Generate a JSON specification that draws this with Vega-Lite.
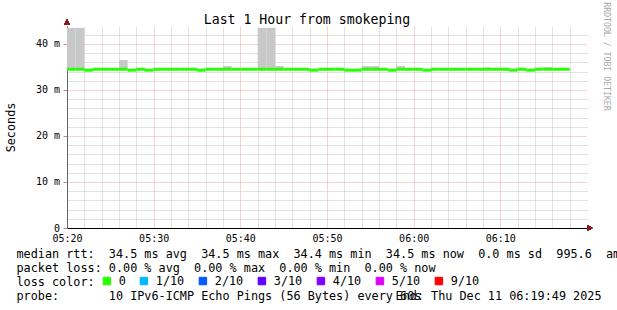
{
  "$schema": "https://vega.github.io/schema/vega-lite/v6.json",
  "width": 520,
  "height": 202,
  "autosize": {"type": "none"},
  "padding": {"left": 67, "top": 26, "right": 30, "bottom": 82},
  "background": "white",
  "config": {
    "font": "DejaVu Sans Mono",
    "view": {"stroke": null},
    "axis": {"labelFont": "DejaVu Sans Mono", "titleFont": "DejaVu Sans Mono", "titleFontWeight": "normal", "titleColor": "black", "labelColor": "black"}
  },
  "title": {"text": "Last 1 Hour from smokeping", "font": "DejaVu Sans Mono", "fontSize": 13.2, "fontWeight": "normal", "color": "black", "anchor": "middle", "frame": "group", "dx": -20, "dy": 37, "baseline": "alphabetic", "offset": 2},
  "data": {"values": [
    {"t": "2025-12-11T05:20:00Z", "t2": "2025-12-11T05:21:00Z", "med": 34.5, "lo": 34.3, "hi": 43.5, "loss": "0"},
    {"t": "2025-12-11T05:21:00Z", "t2": "2025-12-11T05:22:00Z", "med": 34.5, "lo": 34.3, "hi": 43.5, "loss": "0"},
    {"t": "2025-12-11T05:22:00Z", "t2": "2025-12-11T05:23:00Z", "med": 34.3, "lo": 34.2, "hi": 34.6, "loss": "0"},
    {"t": "2025-12-11T05:23:00Z", "t2": "2025-12-11T05:24:00Z", "med": 34.5, "lo": 34.3, "hi": 34.7, "loss": "0"},
    {"t": "2025-12-11T05:24:00Z", "t2": "2025-12-11T05:25:00Z", "med": 34.5, "lo": 34.3, "hi": 34.7, "loss": "0"},
    {"t": "2025-12-11T05:25:00Z", "t2": "2025-12-11T05:26:00Z", "med": 34.5, "lo": 34.3, "hi": 34.7, "loss": "0"},
    {"t": "2025-12-11T05:26:00Z", "t2": "2025-12-11T05:27:00Z", "med": 34.5, "lo": 34.3, "hi": 36.5, "loss": "0"},
    {"t": "2025-12-11T05:27:00Z", "t2": "2025-12-11T05:28:00Z", "med": 34.3, "lo": 34.2, "hi": 34.6, "loss": "0"},
    {"t": "2025-12-11T05:28:00Z", "t2": "2025-12-11T05:29:00Z", "med": 34.5, "lo": 34.3, "hi": 34.7, "loss": "0"},
    {"t": "2025-12-11T05:29:00Z", "t2": "2025-12-11T05:30:00Z", "med": 34.3, "lo": 34.2, "hi": 34.6, "loss": "0"},
    {"t": "2025-12-11T05:30:00Z", "t2": "2025-12-11T05:31:00Z", "med": 34.5, "lo": 34.3, "hi": 34.7, "loss": "0"},
    {"t": "2025-12-11T05:31:00Z", "t2": "2025-12-11T05:32:00Z", "med": 34.5, "lo": 34.3, "hi": 34.7, "loss": "0"},
    {"t": "2025-12-11T05:32:00Z", "t2": "2025-12-11T05:33:00Z", "med": 34.5, "lo": 34.3, "hi": 34.7, "loss": "0"},
    {"t": "2025-12-11T05:33:00Z", "t2": "2025-12-11T05:34:00Z", "med": 34.5, "lo": 34.3, "hi": 34.7, "loss": "0"},
    {"t": "2025-12-11T05:34:00Z", "t2": "2025-12-11T05:35:00Z", "med": 34.5, "lo": 34.3, "hi": 34.7, "loss": "0"},
    {"t": "2025-12-11T05:35:00Z", "t2": "2025-12-11T05:36:00Z", "med": 34.3, "lo": 34.2, "hi": 34.6, "loss": "0"},
    {"t": "2025-12-11T05:36:00Z", "t2": "2025-12-11T05:37:00Z", "med": 34.5, "lo": 34.3, "hi": 34.7, "loss": "0"},
    {"t": "2025-12-11T05:37:00Z", "t2": "2025-12-11T05:38:00Z", "med": 34.5, "lo": 34.3, "hi": 34.7, "loss": "0"},
    {"t": "2025-12-11T05:38:00Z", "t2": "2025-12-11T05:39:00Z", "med": 34.5, "lo": 34.3, "hi": 35.2, "loss": "0"},
    {"t": "2025-12-11T05:39:00Z", "t2": "2025-12-11T05:40:00Z", "med": 34.5, "lo": 34.3, "hi": 34.7, "loss": "0"},
    {"t": "2025-12-11T05:40:00Z", "t2": "2025-12-11T05:41:00Z", "med": 34.5, "lo": 34.3, "hi": 34.7, "loss": "0"},
    {"t": "2025-12-11T05:41:00Z", "t2": "2025-12-11T05:42:00Z", "med": 34.5, "lo": 34.3, "hi": 34.7, "loss": "0"},
    {"t": "2025-12-11T05:42:00Z", "t2": "2025-12-11T05:43:00Z", "med": 34.5, "lo": 34.3, "hi": 43.5, "loss": "0"},
    {"t": "2025-12-11T05:43:00Z", "t2": "2025-12-11T05:44:00Z", "med": 34.5, "lo": 34.3, "hi": 43.5, "loss": "0"},
    {"t": "2025-12-11T05:44:00Z", "t2": "2025-12-11T05:45:00Z", "med": 34.5, "lo": 34.3, "hi": 35.2, "loss": "0"},
    {"t": "2025-12-11T05:45:00Z", "t2": "2025-12-11T05:46:00Z", "med": 34.5, "lo": 34.3, "hi": 34.7, "loss": "0"},
    {"t": "2025-12-11T05:46:00Z", "t2": "2025-12-11T05:47:00Z", "med": 34.5, "lo": 34.3, "hi": 34.7, "loss": "0"},
    {"t": "2025-12-11T05:47:00Z", "t2": "2025-12-11T05:48:00Z", "med": 34.5, "lo": 34.3, "hi": 34.7, "loss": "0"},
    {"t": "2025-12-11T05:48:00Z", "t2": "2025-12-11T05:49:00Z", "med": 34.3, "lo": 34.2, "hi": 34.6, "loss": "0"},
    {"t": "2025-12-11T05:49:00Z", "t2": "2025-12-11T05:50:00Z", "med": 34.5, "lo": 34.3, "hi": 34.7, "loss": "0"},
    {"t": "2025-12-11T05:50:00Z", "t2": "2025-12-11T05:51:00Z", "med": 34.5, "lo": 34.3, "hi": 34.7, "loss": "0"},
    {"t": "2025-12-11T05:51:00Z", "t2": "2025-12-11T05:52:00Z", "med": 34.5, "lo": 34.3, "hi": 34.7, "loss": "0"},
    {"t": "2025-12-11T05:52:00Z", "t2": "2025-12-11T05:53:00Z", "med": 34.3, "lo": 34.2, "hi": 34.6, "loss": "0"},
    {"t": "2025-12-11T05:53:00Z", "t2": "2025-12-11T05:54:00Z", "med": 34.3, "lo": 34.2, "hi": 34.6, "loss": "0"},
    {"t": "2025-12-11T05:54:00Z", "t2": "2025-12-11T05:55:00Z", "med": 34.5, "lo": 34.3, "hi": 35.2, "loss": "0"},
    {"t": "2025-12-11T05:55:00Z", "t2": "2025-12-11T05:56:00Z", "med": 34.5, "lo": 34.3, "hi": 35.2, "loss": "0"},
    {"t": "2025-12-11T05:56:00Z", "t2": "2025-12-11T05:57:00Z", "med": 34.5, "lo": 34.3, "hi": 34.7, "loss": "0"},
    {"t": "2025-12-11T05:57:00Z", "t2": "2025-12-11T05:58:00Z", "med": 34.3, "lo": 34.2, "hi": 34.6, "loss": "0"},
    {"t": "2025-12-11T05:58:00Z", "t2": "2025-12-11T05:59:00Z", "med": 34.5, "lo": 34.3, "hi": 35.2, "loss": "0"},
    {"t": "2025-12-11T05:59:00Z", "t2": "2025-12-11T06:00:00Z", "med": 34.5, "lo": 34.3, "hi": 34.7, "loss": "0"},
    {"t": "2025-12-11T06:00:00Z", "t2": "2025-12-11T06:01:00Z", "med": 34.5, "lo": 34.3, "hi": 34.7, "loss": "0"},
    {"t": "2025-12-11T06:01:00Z", "t2": "2025-12-11T06:02:00Z", "med": 34.3, "lo": 34.2, "hi": 34.6, "loss": "0"},
    {"t": "2025-12-11T06:02:00Z", "t2": "2025-12-11T06:03:00Z", "med": 34.5, "lo": 34.3, "hi": 34.7, "loss": "0"},
    {"t": "2025-12-11T06:03:00Z", "t2": "2025-12-11T06:04:00Z", "med": 34.5, "lo": 34.3, "hi": 34.7, "loss": "0"},
    {"t": "2025-12-11T06:04:00Z", "t2": "2025-12-11T06:05:00Z", "med": 34.5, "lo": 34.3, "hi": 34.7, "loss": "0"},
    {"t": "2025-12-11T06:05:00Z", "t2": "2025-12-11T06:06:00Z", "med": 34.5, "lo": 34.3, "hi": 34.7, "loss": "0"},
    {"t": "2025-12-11T06:06:00Z", "t2": "2025-12-11T06:07:00Z", "med": 34.5, "lo": 34.3, "hi": 34.7, "loss": "0"},
    {"t": "2025-12-11T06:07:00Z", "t2": "2025-12-11T06:08:00Z", "med": 34.5, "lo": 34.3, "hi": 34.7, "loss": "0"},
    {"t": "2025-12-11T06:08:00Z", "t2": "2025-12-11T06:09:00Z", "med": 34.5, "lo": 34.3, "hi": 34.9, "loss": "0"},
    {"t": "2025-12-11T06:09:00Z", "t2": "2025-12-11T06:10:00Z", "med": 34.5, "lo": 34.3, "hi": 34.7, "loss": "0"},
    {"t": "2025-12-11T06:10:00Z", "t2": "2025-12-11T06:11:00Z", "med": 34.5, "lo": 34.3, "hi": 34.7, "loss": "0"},
    {"t": "2025-12-11T06:11:00Z", "t2": "2025-12-11T06:12:00Z", "med": 34.3, "lo": 34.2, "hi": 34.6, "loss": "0"},
    {"t": "2025-12-11T06:12:00Z", "t2": "2025-12-11T06:13:00Z", "med": 34.5, "lo": 34.3, "hi": 34.7, "loss": "0"},
    {"t": "2025-12-11T06:13:00Z", "t2": "2025-12-11T06:14:00Z", "med": 34.3, "lo": 34.2, "hi": 34.6, "loss": "0"},
    {"t": "2025-12-11T06:14:00Z", "t2": "2025-12-11T06:15:00Z", "med": 34.5, "lo": 34.3, "hi": 34.7, "loss": "0"},
    {"t": "2025-12-11T06:15:00Z", "t2": "2025-12-11T06:16:00Z", "med": 34.5, "lo": 34.3, "hi": 35.0, "loss": "0"},
    {"t": "2025-12-11T06:16:00Z", "t2": "2025-12-11T06:17:00Z", "med": 34.5, "lo": 34.3, "hi": 34.7, "loss": "0"},
    {"t": "2025-12-11T06:17:00Z", "t2": "2025-12-11T06:18:00Z", "med": 34.5, "lo": 34.3, "hi": 34.7, "loss": "0"}
  ]},
  "layer": [
    {
      "mark": {"type": "rect", "color": "#c8c8c8"},
      "encoding": {
        "x": {"field": "t", "type": "temporal",
          "scale": {"type": "utc", "domain": [1765430400000, 1765434000000]},
          "axis": {"orient": "top", "values": [1765430520000, 1765430640000, 1765430760000, 1765430880000, 1765431120000, 1765431240000, 1765431360000, 1765431480000, 1765431720000, 1765431840000, 1765431960000, 1765432080000, 1765432320000, 1765432440000, 1765432560000, 1765432680000, 1765432920000, 1765433040000, 1765433160000, 1765433280000, 1765433520000, 1765433640000, 1765433760000, 1765433880000],
            "grid": true, "gridColor": "#c4c4c4", "gridDash": [1, 1], "gridWidth": 1,
            "domain": false, "ticks": false, "labels": false,
            "title": "End: Thu Dec 11 06:19:49 2025", "titleX": 534, "titleY": 273.6, "titleAlign": "right", "titleBaseline": "alphabetic", "titleFontSize": 11.8, "titleAngle": 0}},
        "x2": {"field": "t2"},
        "y": {"field": "lo", "type": "quantitative",
          "scale": {"domain": [0, 43.9], "nice": false, "zero": true},
          "axis": {"orient": "right", "values": [2, 4, 6, 8, 12, 14, 16, 18, 22, 24, 26, 28, 32, 34, 36, 38, 42],
            "grid": true, "gridColor": "#c4c4c4", "gridDash": [1, 1], "gridWidth": 1,
            "domain": false, "ticks": false, "labels": false,
            "title": "RRDTOOL / TOBI OETIKER", "titleAngle": 90, "titleX": 18, "titleY": 30, "titleAlign": "center", "titleBaseline": "middle", "titleFontSize": 8.2, "titleColor": "#a8a8a8"}},
        "y2": {"field": "hi"}
      }
    },
    {
      "mark": {"type": "rule", "strokeWidth": 3},
      "encoding": {
        "x": {"field": "t", "type": "temporal",
          "axis": {"orient": "bottom", "values": [1765430400000, 1765431000000, 1765431600000, 1765432200000, 1765432800000, 1765433400000],
            "labelExpr": "utcFormat(datum.value, '%H:%M')",
            "grid": true, "gridColor": "#f4a4a4", "gridDash": [1, 1], "gridWidth": 1,
            "domain": true, "domainColor": "black", "domainWidth": 1.2, "ticks": false,
            "labelFontSize": 10, "labelPadding": 5, "labelFlush": false,
            "title": ["median rtt:\u00a0\u00a034.5 ms avg\u00a0\u00a034.5 ms max\u00a0\u00a034.4 ms min\u00a0\u00a034.5 ms now\u00a0\u00a00.0 ms sd\u00a0\u00a0995.6\u00a0\u00a0am/s", "packet loss: 0.00 % avg\u00a0\u00a00.00 % max\u00a0\u00a00.00 % min\u00a0\u00a00.00 % now", "loss color:", "probe:\u00a0\u00a0\u00a0\u00a0\u00a0\u00a0\u00a010 IPv6-ICMP Echo Pings (56 Bytes) every 60s"],
            "titleX": -51, "titleY": 29.8, "titleAlign": "left", "titleAnchor": "start", "titleBaseline": "alphabetic", "titleLineHeight": 14, "titleFontSize": 11.8, "titleAngle": 0}},
        "x2": {"field": "t2"},
        "y": {"field": "med", "type": "quantitative",
          "axis": {"orient": "left", "values": [0, 10, 20, 30, 40],
            "labelExpr": "datum.value == 0 ? '0' : datum.value + ' m'",
            "grid": true, "gridColor": "#f4a4a4", "gridDash": [1, 1], "gridWidth": 1,
            "domain": true, "domainColor": "#666666", "ticks": true, "tickSize": 4, "tickColor": "#d08080",
            "labelFontSize": 10, "labelPadding": 3.5,
            "title": "Seconds", "titleX": -56.2, "titleY": 101, "titleAngle": 270, "titleAlign": "center", "titleBaseline": "middle", "titleFontSize": 11.8}},
        "color": {"field": "loss", "type": "nominal",
          "scale": {"domain": ["0", "1/10", "2/10", "3/10", "4/10", "5/10", "9/10"], "range": ["#26ff00", "#00b8ff", "#0059ff", "#5e00ff", "#7e00ff", "#dd00ff", "#ff0000"]},
          "legend": {"orient": "none", "legendX": 34, "legendY": 249, "direction": "horizontal",
            "title": null,
            "labelFont": "DejaVu Sans Mono", "labelFontSize": 11.8, "labelColor": "black", "labelOffset": 6, "columnPadding": 12,
            "symbolType": "square", "symbolSize": 56, "symbolStrokeWidth": 1, "symbolStrokeColor": "black", "padding": 0,
            "encode": {"symbols": {"update": {"fill": {"scale": "color", "field": "value"}, "stroke": {"value": "black"}, "strokeWidth": {"value": 1}, "opacity": {"value": 1}}}}}}
      }
    },
    {
      "mark": {"type": "point", "shape": "triangle-up", "filled": true, "color": "#8b1a1a", "size": 30, "opacity": 1},
      "encoding": {
        "x": {"datum": {"year": 2025, "month": 12, "date": 11, "hours": 5, "minutes": 20, "utc": true}, "type": "temporal", "axis": null},
        "y": {"datum": 44.8, "type": "quantitative", "axis": null}
      }
    },
    {
      "mark": {"type": "point", "shape": "triangle-right", "filled": true, "color": "#8b1a1a", "size": 30, "opacity": 1},
      "encoding": {
        "x": {"datum": {"year": 2025, "month": 12, "date": 11, "hours": 6, "minutes": 20, "seconds": 20, "utc": true}, "type": "temporal", "axis": null},
        "y": {"datum": 0, "type": "quantitative", "axis": null}
      }
    }
  ],
  "resolve": {"axis": {"x": "independent", "y": "independent"}}
}
